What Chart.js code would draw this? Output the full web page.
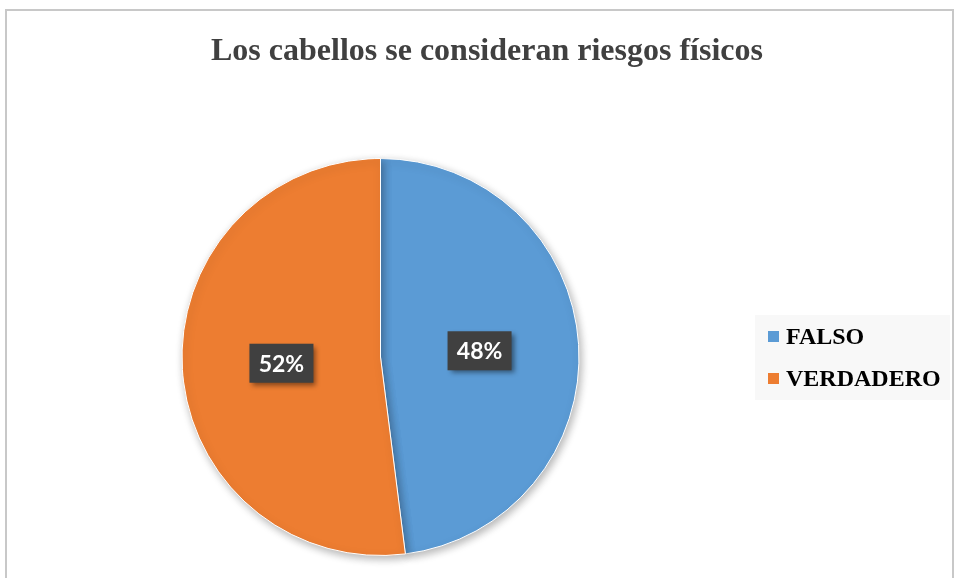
<!DOCTYPE html>
<html>
<head>
<meta charset="utf-8">
<script src="https://cdn.jsdelivr.net/npm/chart.js@4/dist/chart.umd.min.js"></script>
<style>
  body { margin: 0; background: #fff; }
  #wrap { width: 955px; height: 578px; position: relative; }
</style>
</head>
<body>
<div id="wrap"><canvas id="pieChart" width="955" height="578"></canvas></div>
<script>
const titleText = 'Los cabellos se consideran riesgos físicos';
const categories = ['FALSO', 'VERDADERO'];
const percentages = [48, 52];
const sliceColors = ['#5B9BD5', '#ED7D31'];

// frame, title and legend drawn on the canvas
const decorPlugin = {
    id: 'decor',
    beforeDraw(chart) {
        const c = chart.ctx;
        c.save();
        c.strokeStyle = '#c8c8c8';
        c.lineWidth = 2;
        c.strokeRect(6, 10, 947, 600);
        c.restore();
    },
    afterDraw(chart) {
        const c = chart.ctx;
        c.save();
        c.fillStyle = '#404040';
        c.font = 'bold 32px "Liberation Serif", "Times New Roman", serif';
        c.textAlign = 'center';
        c.textBaseline = 'alphabetic';
        c.fillText(titleText, 487, 60);

        // legend box
        c.fillStyle = '#f8f8f8';
        c.fillRect(755, 315, 195, 85);
        c.font = 'bold 24px "Liberation Serif", "Times New Roman", serif';
        c.textAlign = 'left';
        chart.data.labels.forEach((lab, i) => {
            const y = 344 + i * 42;
            c.fillStyle = chart.data.datasets[0].backgroundColor[i];
            c.fillRect(768, y - 13, 11, 11);
            c.fillStyle = '#000';
            c.fillText(lab, 786, y);
        });
        c.restore();
    }
};

// dark boxes with the percentage in each slice
const sliceLabels = {
    id: 'sliceLabels',
    afterDatasetsDraw(chart) {
        const c = chart.ctx;
        const meta = chart.getDatasetMeta(0);
        c.save();
        c.font = 'bold 23px Lato, "Open Sans", sans-serif';
        c.textAlign = 'center';
        c.textBaseline = 'middle';
        meta.data.forEach((arc, i) => {
            const p = arc.tooltipPosition();
            const txt = chart.data.datasets[0].data[i] + '%';
            const w = 64, h = 39;
            c.shadowColor = 'rgba(0,0,0,0.45)';
            c.shadowBlur = 5;
            c.shadowOffsetX = 3;
            c.shadowOffsetY = 3;
            c.fillStyle = '#404040';
            c.fillRect(p.x - w / 2, p.y - h / 2, w, h);
            c.shadowColor = 'transparent';
            c.fillStyle = '#ffffff';
            c.fillText(txt, p.x, p.y + 1);
        });
        c.restore();
    }
};

const pieShadow = {
    id: 'pieShadow',
    beforeDatasetsDraw(chart) {
        const c = chart.ctx;
        c.save();
        c.shadowColor = 'rgba(0,0,0,0.3)';
        c.shadowBlur = 8;
        c.shadowOffsetX = 2;
        c.shadowOffsetY = 3;
    },
    afterDatasetsDraw(chart) {
        chart.ctx.restore();
    }
};

new Chart(document.getElementById('pieChart'), {
    type: 'pie',
    data: {
        labels: categories,
        datasets: [{
            data: percentages,
            backgroundColor: sliceColors,
            borderColor: '#ffffff',
            borderWidth: 1
        }]
    },
    options: {
        responsive: false,
        animation: false,
        layout: { padding: { left: 181, right: 375, top: 158, bottom: 22 } },
        plugins: {
            legend: { display: false },
            title: { display: false },
            tooltip: { enabled: false }
        }
    },
    plugins: [decorPlugin, pieShadow, sliceLabels]
});
</script>
</body>
</html>
